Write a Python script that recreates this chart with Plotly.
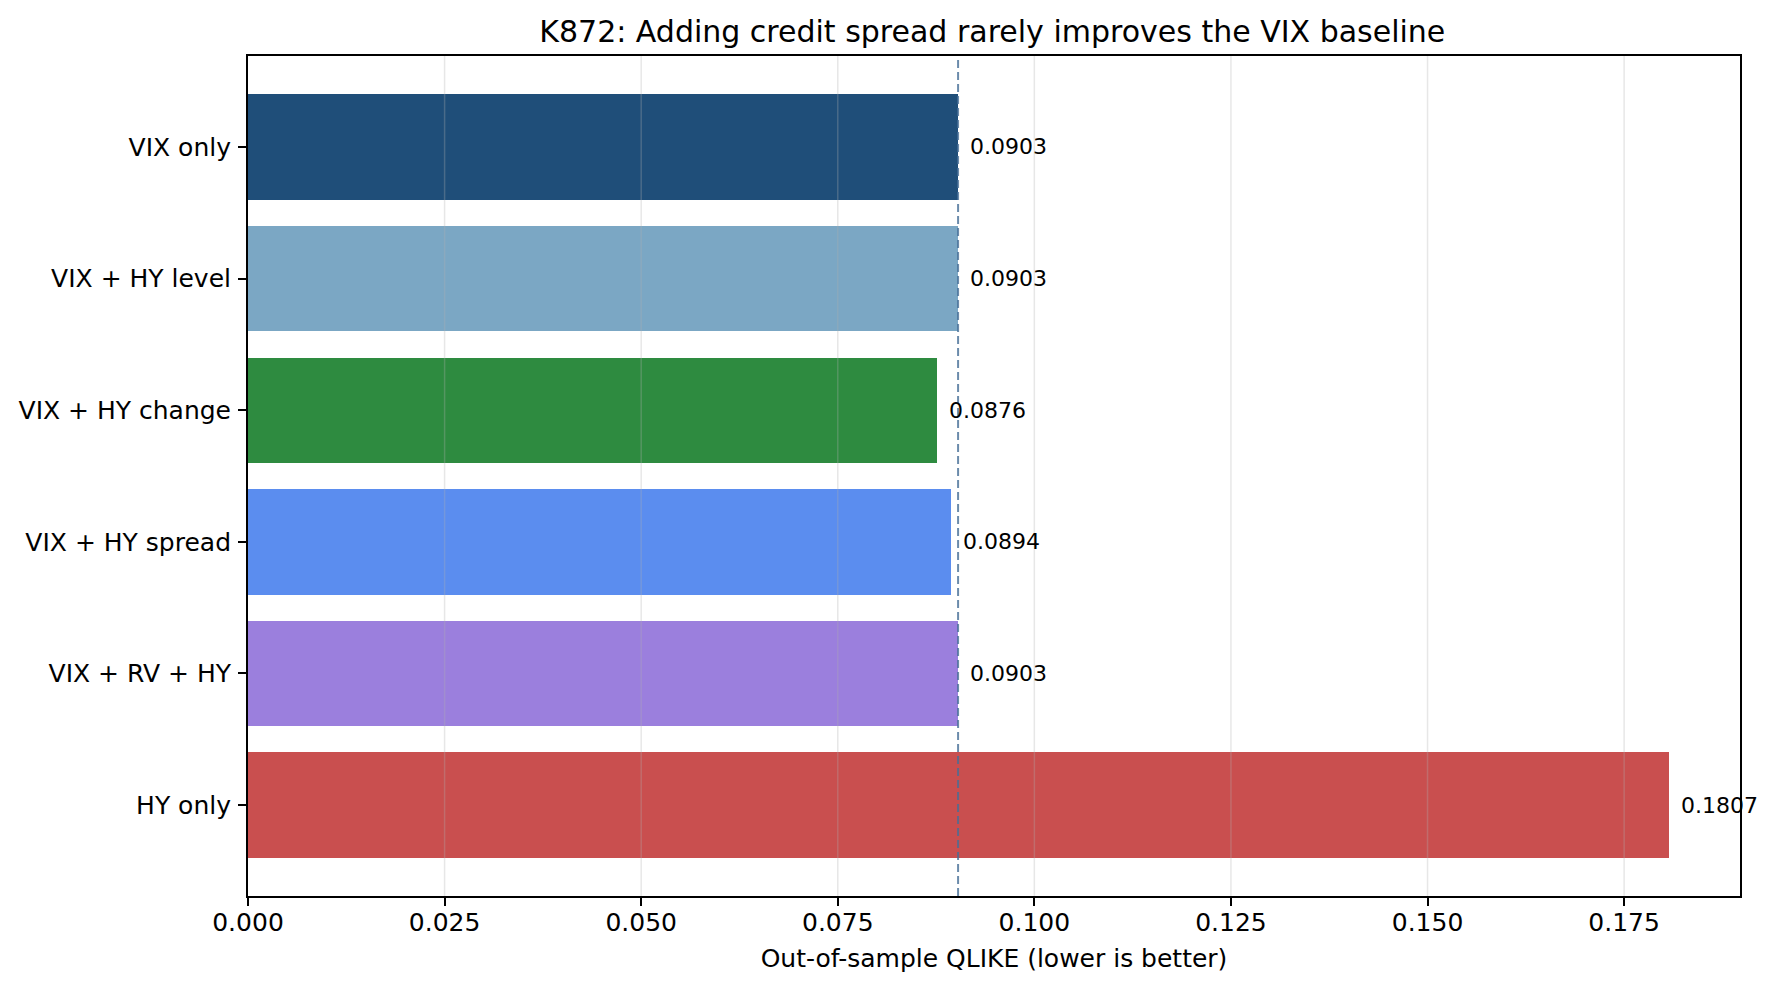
import plotly.graph_objects as go

models = ["VIX only", "VIX + HY level", "VIX + HY change", "VIX + HY spread", "VIX + RV + HY", "HY only"]
qlike = [0.0903, 0.0903, 0.0876, 0.0894, 0.0903, 0.1807]
colors = ["#1f4e79", "#7ba7c4", "#2e8b40", "#5b8def", "#9b7fdd", "#c94f4f"]
baseline = 0.0903
xticks = [0.0, 0.025, 0.05, 0.075, 0.1, 0.125, 0.15, 0.175]

n = len(models)
ypos = [n - 1 - i for i in range(n)]
xmax = max(qlike) * 1.05
font = "DejaVu Sans"

fig = go.Figure()
fig.add_trace(go.Bar(
    x=qlike, y=ypos, orientation="h", width=0.8,
    marker=dict(color=colors, line=dict(width=0)),
    hoverinfo="skip", showlegend=False,
))
for v, y in zip(qlike, ypos):
    fig.add_annotation(x=v + 0.0013, y=y, text=f"{v:.4f}", showarrow=False,
                       xanchor="left", yanchor="middle",
                       font=dict(family=font, size=22, color="black"))

shapes = []
for t in xticks[1:]:
    shapes.append(dict(type="line", xref="x", yref="paper", x0=t, x1=t, y0=0, y1=1,
                       line=dict(color="rgba(176,176,176,0.3)", width=1.5), layer="above"))
shapes.append(dict(type="line", xref="x", yref="paper", x0=baseline, x1=baseline, y0=0, y1=1,
                   line=dict(color="rgba(70,110,150,0.8)", width=2, dash="8px,4px"), layer="above"))
fig.update_layout(shapes=shapes)

fig.update_layout(
    width=1778, height=989,
    margin=dict(l=248, r=38, t=56, b=93),
    paper_bgcolor="white", plot_bgcolor="white",
    title=dict(text="K872: Adding credit spread rarely improves the VIX baseline",
               x=0.5581, xanchor="center", y=0.968, yanchor="middle",
               font=dict(family=font, size=30, color="black")),
    bargap=0,
    xaxis=dict(range=[0, xmax], tickvals=xticks, tickformat=".3f",
               showgrid=False, zeroline=False,
               showline=True, linecolor="black", linewidth=2, mirror=True,
               ticks="outside", ticklen=8, tickwidth=2, tickcolor="black",
               ticklabelstandoff=-5,
               tickfont=dict(family=font, size=25, color="black"),
               title=dict(text="Out-of-sample QLIKE (lower is better)", standoff=13,
                          font=dict(family=font, size=25, color="black"))),
    yaxis=dict(range=[-0.69, n - 1 + 0.69], tickvals=ypos, ticktext=models,
               showgrid=False, zeroline=False,
               showline=True, linecolor="black", linewidth=2, mirror=True,
               ticks="outside", ticklen=8, tickwidth=2, tickcolor="black",
               ticklabelstandoff=2,
               tickfont=dict(family=font, size=25, color="black")),
)

fig.write_html("out.html")
